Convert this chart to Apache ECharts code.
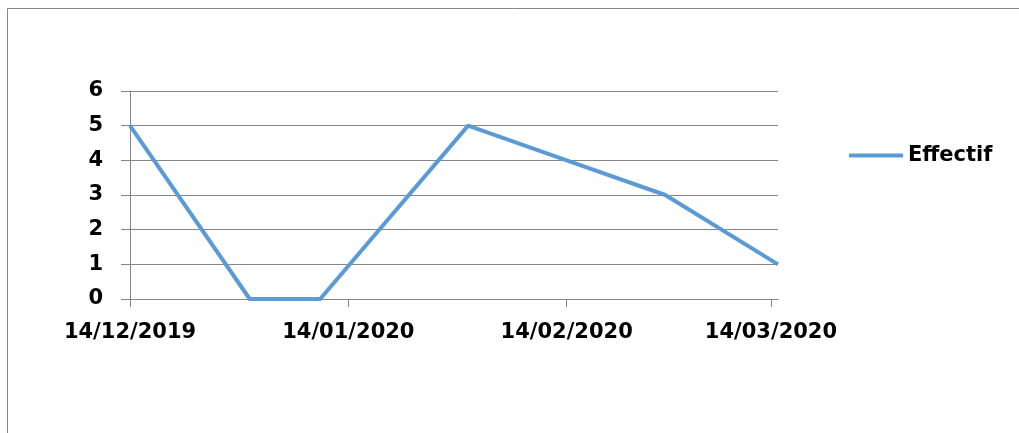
<!DOCTYPE html>
<html>
<head>
<meta charset="utf-8">
<script src="https://cdn.jsdelivr.net/npm/echarts@6/dist/echarts.min.js"></script>
<style>
  html, body { margin: 0; padding: 0; background: #fff; }
  #chart { width: 1019px; height: 433px; }
</style>
</head>
<body>
<div id="chart"></div>
<script>
// Observation dates and headcount
const dates = ['2019-12-14', '2019-12-31', '2020-01-10', '2020-01-31', '2020-02-14', '2020-02-28', '2020-03-15'];
const effectif = [5, 0, 0, 5, 4, 3, 1];
// Dates shown on the horizontal axis
const tickDates = ['2019-12-14', '2020-01-14', '2020-02-14', '2020-03-14'];
const seriesName = 'Effectif';

function toMs(s) {
  const [y, m, d] = s.split('-').map(Number);
  return Date.UTC(y, m - 1, d);
}
function pad(n) { return (n < 10 ? '0' : '') + n; }
function fmtDate(v) {
  const d = new Date(v);
  return pad(d.getUTCDate()) + '/' + pad(d.getUTCMonth() + 1) + '/' + d.getUTCFullYear();
}

const tickMs = tickDates.map(toMs);
const points = dates.map((d, i) => [toMs(d), effectif[i]]);

const font = { fontFamily: 'DejaVu Sans', fontWeight: 'bold', fontSize: 21, color: '#000' };
const gray = '#868686';

const chart = echarts.init(document.getElementById('chart'), null, { renderer: 'canvas' });
chart.setOption({
  animation: false,
  backgroundColor: '#fff',
  graphic: [{
    type: 'rect',
    shape: { x: 7.5, y: 8.5, width: 1100, height: 500 },
    style: { fill: 'none', stroke: gray, lineWidth: 1 },
    silent: true
  }],
  grid: { left: 130, right: 241, top: 91, bottom: 134, containLabel: false },
  legend: {
    left: 849, top: 145, padding: 0,
    icon: 'rect', itemWidth: 54, itemHeight: 4, itemGap: 5,
    textStyle: Object.assign({}, font, { padding: [0, 0, 0, 0] }),
    data: [seriesName]
  },
  xAxis: {
    type: 'value',
    min: toMs(dates[0]),
    max: toMs(dates[dates.length - 1]),
    axisLine: { show: true, lineStyle: { color: gray, width: 1 } },
    axisTick: { show: true, length: 8, customValues: tickMs, lineStyle: { color: gray } },
    axisLabel: Object.assign({ margin: 23, customValues: tickMs, formatter: fmtDate, hideOverlap: false }, font),
    splitLine: { show: false }
  },
  yAxis: {
    type: 'value',
    min: 0, max: 6, interval: 1,
    axisLine: { show: true, lineStyle: { color: gray, width: 1 } },
    axisTick: { show: true, length: 9, lineStyle: { color: gray } },
    axisLabel: Object.assign({ margin: 27 }, font),
    splitLine: { show: true, lineStyle: { color: gray, width: 1 } }
  },
  series: [{
    name: seriesName,
    type: 'line',
    data: points,
    showSymbol: false,
    symbol: 'none',
    color: '#5b9bd5',
    lineStyle: { color: '#5b9bd5', width: 4, cap: 'butt', join: 'round' }
  }]
});
</script>
</body>
</html>
